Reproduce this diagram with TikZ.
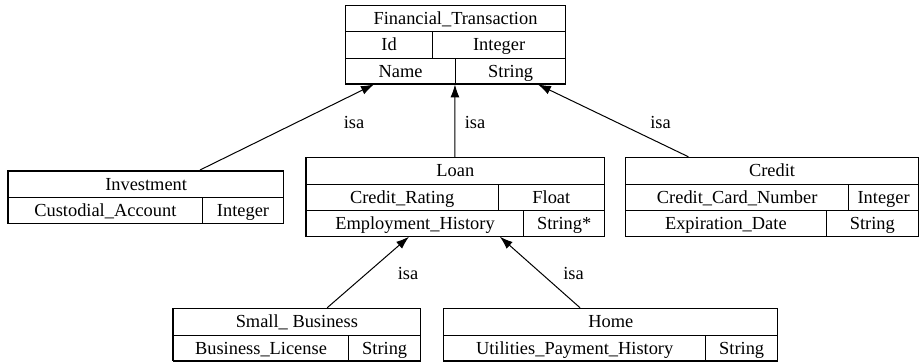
\documentclass[tikz,border=0pt]{standalone}
\usepackage{fontspec}
\setmainfont{Liberation Serif}
\usetikzlibrary{arrows.meta}
\tikzset{>={Latex[length=13bp,width=9bp]}}
\newcommand\umlfont{\fontsize{18.4bp}{22bp}\selectfont}

\begin{document}
\begin{tikzpicture}[x=1bp,y=-1bp,line width=1bp]
\useasboundingbox (0,0) rectangle (920,361);
% record frames
\begin{scope}[every node/.style={draw,inner sep=0pt}]
\node[minimum width=220bp,minimum height=78.9bp] (ft) at (455,44.45) {};
\node[minimum width=275.3bp,minimum height=52.6bp] (inv) at (145.65,196.8) {};
\node[minimum width=298.3bp,minimum height=78.9bp] (loan) at (454.85,196.75) {};
\node[minimum width=293bp,minimum height=78.9bp] (credit) at (771.5,196.75) {};
\node[minimum width=247.3bp,minimum height=52.6bp] (sb) at (296.35,334.6) {};
\node[minimum width=334bp,minimum height=52.6bp] (home) at (610.3,334.6) {};
\end{scope}
% record cells
\begin{scope}[every node/.style={draw,inner sep=0pt,anchor=north west,
    minimum height=26.3bp,text height=12bp,text depth=0pt,font=\umlfont}]
\node[minimum width=220bp] (ftT) at (345,5) {Financial\_Transaction};
\node[minimum width=87.3bp] (ftId) at (345,31.3) {Id};
\node[minimum width=132.7bp] (ftIdT) at (432.3,31.3) {Integer};
\node[minimum width=110.3bp] (ftName) at (345,57.6) {Name};
\node[minimum width=109.7bp] (ftNameT) at (455.3,57.6) {String};

\node[minimum width=275.3bp] (invT) at (8,170.5) {Investment};
\node[minimum width=193.7bp] (invCa) at (8,196.8) {Custodial\_Account};
\node[minimum width=81.6bp] (invCaT) at (201.7,196.8) {Integer};

\node[minimum width=298.3bp] (loanT) at (305.7,157.3) {Loan};
\node[minimum width=192bp] (loanCr) at (305.7,183.6) {Credit\_Rating};
\node[minimum width=106.3bp] (loanCrT) at (497.7,183.6) {Float};
\node[minimum width=217.6bp] (loanEh) at (305.7,209.9) {Employment\_History};
\node[minimum width=80.7bp] (loanEhT) at (523.3,209.9) {String*};

\node[minimum width=293bp] (creditT) at (625,157.3) {Credit};
\node[minimum width=223.3bp] (creditCcn) at (625,183.6) {Credit\_Card\_Number};
\node[minimum width=69.7bp] (creditCcnT) at (848.3,183.6) {Integer};
\node[minimum width=200.7bp] (creditEd) at (625,209.9) {Expiration\_Date};
\node[minimum width=92.3bp] (creditEdT) at (825.7,209.9) {String};

\node[minimum width=247.3bp] (sbT) at (172.7,308.3) {Small\_ Business};
\node[minimum width=175.6bp] (sbBl) at (172.7,334.6) {Business\_License};
\node[minimum width=71.7bp] (sbBlT) at (348.3,334.6) {String};

\node[minimum width=334bp] (homeT) at (443.3,308.3) {Home};
\node[minimum width=261.7bp] (homeUph) at (443.3,334.6) {Utilities\_Payment\_History};
\node[minimum width=72.3bp] (homeUphT) at (705,334.6) {String};
\end{scope}
% isa links
\begin{scope}[every node/.style={anchor=base,inner sep=0pt,font=\umlfont},
    every edge/.style={draw=black,line width=1bp}]
    \path [->] (inv) edge (ft);
    \path [->] (loan) edge (ft);
    \path [->] (credit) edge (ft);
    \path [->] (sb) edge (loan);
    \path [->] (home) edge (loan);

    \node (isaInv) at (354,128) {isa};
    \node (isaLoan) at (475,128) {isa};
    \node (isaCredit) at (660.5,128) {isa};
    \node (isaSb) at (408,279) {isa};
    \node (isaHome) at (573.5,279) {isa};
\end{scope}
\end{tikzpicture}
\end{document}
